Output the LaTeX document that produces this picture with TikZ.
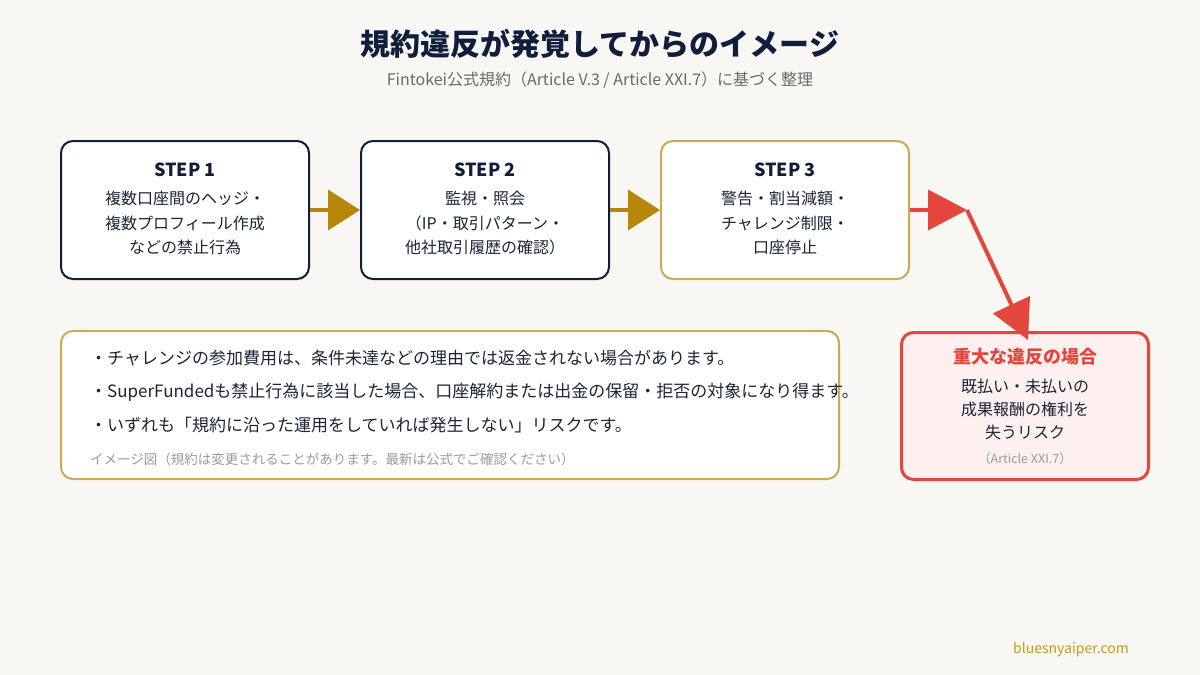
\documentclass[tikz,border=0pt]{standalone}
\usepackage{fontspec}
\setmainfont{Noto Sans CJK JP}
\usepackage{xcolor}
\usepackage{tikz}
\usetikzlibrary{arrows.meta,positioning}
\definecolor{bgcream}{HTML}{F9F7F3}
\definecolor{navy}{HTML}{0F1E3C}
\definecolor{inktext}{HTML}{1C2436}
\definecolor{subgray}{HTML}{6A6A6A}
\definecolor{notegray}{HTML}{9C9C9C}
\definecolor{goldline}{HTML}{CBAA55}
\definecolor{goldarrow}{HTML}{B8860B}
\definecolor{siteink}{HTML}{C9971C}
\definecolor{riskred}{HTML}{E2463C}
\definecolor{riskfill}{HTML}{FDF0EF}
\tikzset{
  stepbox/.style={draw=navy, rounded corners=12pt, line width=2pt, fill=white,
    align=center, inner sep=0pt, minimum width=248pt, minimum height=138pt,
    text=inktext, font=\fontsize{16}{24.5}\selectfont},
  notebox/.style={draw=goldline, rounded corners=12pt, line width=2pt, fill=white,
    inner sep=0pt, minimum width=778pt, minimum height=148pt},
  riskbox/.style={draw=riskred, rounded corners=12pt, line width=3pt, fill=riskfill,
    align=center, inner sep=0pt, minimum width=247pt, minimum height=147pt,
    text=inktext, font=\fontsize{16}{23}\selectfont},
  notetxt/.style={anchor=west, inner sep=0pt, text=inktext, font=\fontsize{17}{20}\selectfont},
  notefoot/.style={anchor=west, inner sep=0pt, text=notegray, font=\fontsize{13.5}{16}\selectfont},
  goldarr/.style={-{Triangle[length=32pt, width=40pt]}, line width=4pt, draw=goldarrow},
  redarr/.style={-{Triangle[length=39pt, width=40pt]}, line width=4pt, draw=riskred},
  figtitle/.style={font=\fontsize{30}{36}\selectfont\bfseries, text=navy},
  figsubtitle/.style={font=\fontsize{16}{20}\selectfont, text=subgray},
  sitemark/.style={font=\fontsize{14}{17}\selectfont, text=siteink},
}
\begin{document}
\begin{tikzpicture}[x=1pt, y=-1pt]

\fill[bgcream] (0,0) rectangle (1200,675);
\useasboundingbox (0,0) rectangle (1200,675);

\node[figtitle] (title) at (600,44) {規約違反が発覚してからのイメージ};
\node[figsubtitle] (subtitle) at (600,80) {Fintokei公式規約（Article V.3 / Article XXI.7）に基づく整理};

\node[stepbox] (step1) at (185,210) {{\fontsize{18}{22}\selectfont\bfseries\color{navy} STEP 1}\\[4pt]
  複数口座間のヘッジ・\\複数プロフィール作成\\などの禁止行為\\[-20.5pt]\mbox{}};
\node[stepbox, right=50pt of step1] (step2) {{\fontsize{18}{22}\selectfont\bfseries\color{navy} STEP 2}\\[4pt]
  監視・照会\\（IP・取引パターン・\\他社取引履歴の確認）\\[-20.5pt]\mbox{}};
\node[stepbox, draw=goldline, right=50pt of step2] (step3) {{\fontsize{18}{22}\selectfont\bfseries\color{navy} STEP 3}\\[4pt]
  警告・割当減額・\\チャレンジ制限・\\口座停止\\[-20.5pt]\mbox{}};

\node[notebox] (note) at (450,405) {};
\node[notetxt] (n_fee) at (90,358) {・チャレンジの参加費用は、条件未達などの理由では返金されない場合があります。};
\node[notetxt] (n_sf) at (90,392) {・SuperFundedも禁止行為に該当した場合、口座解約または出金の保留・拒否の対象になり得ます。};
\node[notetxt] (n_rule) at (90,425) {・いずれも「規約に沿った運用をしていれば発生しない」リスクです。};
\node[notefoot] (n_foot) at (90,459) {イメージ図（規約は変更されることがあります。最新は公式でご確認ください）};

\node[riskbox] (severe) at (1025,406) {{\fontsize{18}{22}\selectfont\bfseries\color{riskred} 重大な違反の場合}\\[6pt]
  既払い・未払いの\\成果報酬の権利を\\失うリスク\\[2pt]
  {\fontsize{12.5}{14}\selectfont\color{notegray}（Article XXI.7）}};

\coordinate (turn) at (967,210);

\draw[goldarr] (step1) -- (step2);
\draw[goldarr] (step2) -- (step3);
\draw[redarr] (step3) -- (turn);
\draw[redarr] (turn) -- ([xshift=3pt, yshift=-9pt]severe.north);

\node[sitemark] (site) at (1071,650) {bluesnyaiper.com};

\end{tikzpicture}
\end{document}
